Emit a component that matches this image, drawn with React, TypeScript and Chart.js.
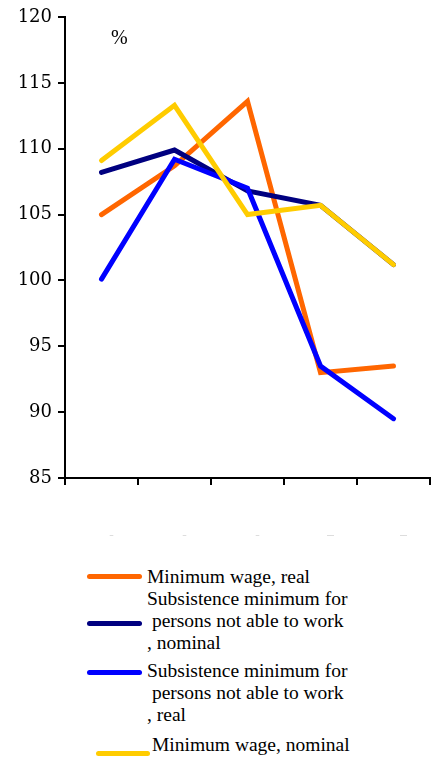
import React, { useEffect, useRef } from "react";
import { Chart, registerables } from "chart.js";

Chart.register(...registerables);

const categories = ["‒", "‒", "‒", "‒‒", "‒‒"];
const minWageReal = [105.0, 108.7, 113.6, 93.0, 93.5];
const subsistNominal = [108.2, 109.9, 106.8, 105.7, 101.2];
const subsistReal = [100.1, 109.2, 107.0, 93.5, 89.5];
const minWageNominal = [109.1, 113.3, 105.0, 105.7, 101.2];
const yMin = 85;
const yMax = 120;
const yStep = 5;

const ORANGE = "#FF6600";
const NAVY = "#000080";
const BLUE = "#0000FF";
const YELLOW = "#FFCC00";

const serif = "'Liberation Serif', 'Times New Roman', serif";

export default function App() {
  const ref = useRef<HTMLCanvasElement | null>(null);

  useEffect(() => {
    if (!ref.current) return;
    const common = {
      borderWidth: 5,
      pointRadius: 0,
      tension: 0,
      borderCapStyle: "round" as const,
      borderJoinStyle: "miter" as const,
      fill: false,
    };
    const chart = new Chart(ref.current, {
      type: "line",
      data: {
        labels: categories,
        datasets: [
          { label: "Minimum wage, real", data: minWageReal, borderColor: ORANGE, backgroundColor: ORANGE, order: 4, ...common },
          { label: "Subsistence minimum for persons not able to work , nominal", data: subsistNominal, borderColor: NAVY, backgroundColor: NAVY, order: 3, ...common },
          { label: "Subsistence minimum for persons not able to work , real", data: subsistReal, borderColor: BLUE, backgroundColor: BLUE, order: 2, ...common },
          { label: "Minimum wage, nominal", data: minWageNominal, borderColor: YELLOW, backgroundColor: YELLOW, order: 1, ...common },
        ],
      },
      options: {
        animation: false,
        responsive: false,
        devicePixelRatio: 1,
        layout: { padding: { top: 17, right: 5, left: 0, bottom: 0 } },
        plugins: { legend: { display: false }, tooltip: { enabled: false } },
        scales: {
          x: {
            offset: true,
            grid: { offset: true, drawOnChartArea: false, drawTicks: true, tickLength: 7, color: "#000", lineWidth: 2 },
            border: { display: true, color: "#000", width: 2 },
            ticks: { color: "#999", font: { size: 7, family: serif }, padding: 46, labelOffset: 10, maxRotation: 0, autoSkip: false },
            afterFit: (s: any) => { s.height = 82; s.paddingLeft = 0; s.paddingRight = 0; },
          },
          y: {
            min: yMin,
            max: yMax,
            grid: { drawOnChartArea: false, drawTicks: true, tickLength: 7, color: "#000", lineWidth: 2 },
            border: { display: true, color: "#000", width: 2 },
            ticks: { stepSize: yStep, color: "#000", font: { size: 18, family: "'DejaVu Serif', serif" }, padding: 6 },
            afterFit: (s: any) => { s.width = 65; },
          },
        },
      },
    });
    return () => chart.destroy();
  }, []);

  const lineSample = (left: number, top: number, width: number, color: string) => (
    <div style={{ position: "absolute", left, top: top - 2.5, width, height: 5, borderRadius: 3, background: color }} />
  );
  const text = (left: number, top: number, s: string) => (
    <div style={{ position: "absolute", left, top, whiteSpace: "pre", fontFamily: serif, fontSize: 19.5, lineHeight: "22px", color: "#000" }}>{s}</div>
  );

  return (
    <div style={{ position: "absolute", left: 0, top: 0, width: 435, height: 757, background: "#fff", overflow: "hidden" }}>
      <canvas ref={ref} width={435} height={560} style={{ display: "block", width: 435, height: 560 }} />
      <div style={{ position: "absolute", left: 111, top: 26, fontFamily: serif, fontSize: 20, lineHeight: "22px" }}>%</div>
      {lineSample(87, 576, 55, ORANGE)}
      {text(147, 565.5, "Minimum wage, real")}
      {lineSample(87, 623, 55, NAVY)}
      {text(147, 587.5, "Subsistence minimum for\n persons not able to work\n, nominal")}
      {lineSample(87, 672, 55, BLUE)}
      {text(147, 660, "Subsistence minimum for\n persons not able to work\n, real")}
      {lineSample(96, 753, 54, YELLOW)}
      {text(152, 734, "Minimum wage, nominal")}
    </div>
  );
}
